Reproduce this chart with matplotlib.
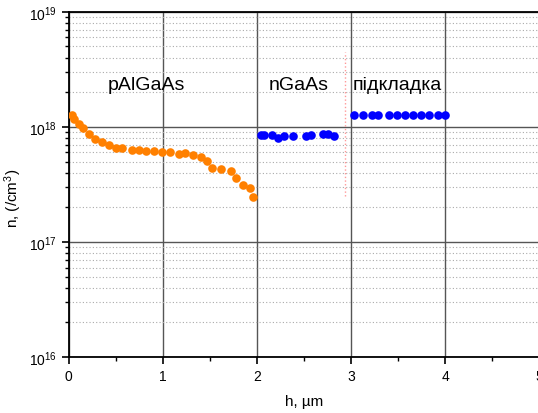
import numpy as np
import matplotlib.pyplot as plt
from matplotlib.ticker import LogLocator, MultipleLocator

plt.rcParams['font.family'] = ['Liberation Sans', 'DejaVu Sans']
plt.rcParams['mathtext.fontset'] = 'custom'
plt.rcParams['mathtext.rm'] = 'Liberation Sans'
plt.rcParams['mathtext.it'] = 'Liberation Sans:italic'

# p-AlGaAs layer
h_p = [0.03, 0.05, 0.11, 0.15, 0.21, 0.28, 0.35, 0.43, 0.50, 0.57, 0.67, 0.75,
       0.82, 0.91, 0.99, 1.08, 1.17, 1.24, 1.32, 1.41, 1.47, 1.52, 1.62, 1.72,
       1.78, 1.85, 1.93, 1.96]
n_p = [1.27e18, 1.17e18, 1.05e18, 9.8e17, 8.7e17, 7.9e17, 7.4e17, 7.0e17,
       6.6e17, 6.55e17, 6.35e17, 6.35e17, 6.2e17, 6.15e17, 6.0e17, 6.0e17,
       5.8e17, 5.9e17, 5.75e17, 5.45e17, 5.05e17, 4.4e17, 4.3e17, 4.15e17,
       3.6e17, 3.1e17, 2.95e17, 2.45e17]

# n-GaAs layer
h_n = [2.04, 2.08, 2.16, 2.22, 2.29, 2.38, 2.52, 2.58, 2.70, 2.76, 2.82]
n_n = [8.55e17, 8.5e17, 8.55e17, 8.0e17, 8.3e17, 8.4e17, 8.4e17, 8.55e17,
       8.7e17, 8.7e17, 8.4e17]

# substrate
h_s = [3.03, 3.13, 3.22, 3.29, 3.40, 3.49, 3.57, 3.66, 3.74, 3.83, 3.92, 4.00]
n_s = [1.28e18] * 12

layer_names = ['pAlGaAs', 'nGaAs', 'підкладка']
layer_label_x = [0.415, 2.12, 3.02]
layer_label_y = 2.35e18

boundary_x = 2.94
boundary_y = [2.5e17, 4.5e18]

fig = plt.figure(figsize=(5.38, 4.14), dpi=100)
ax = fig.add_axes([0.128, 0.135, 0.874, 0.834])

ax.set_yscale('log')
ax.set_xlim(0, 5)
ax.set_ylim(1e16, 1e19)

ax.plot(h_p, n_p, 'o', color='#FF8000', ms=6.2, mec='none', zorder=3)
ax.plot(h_n, n_n, 'o', color='#0000FF', ms=6.2, mec='none', zorder=3)
ax.plot(h_s, n_s, 'o', color='#0000FF', ms=6.2, mec='none', zorder=3)

ax.plot([boundary_x, boundary_x], boundary_y, ':', color='#FF9999', lw=1.0, zorder=2)

for name, x in zip(layer_names, layer_label_x):
    ax.text(x, layer_label_y, name, fontsize=14, va='center', ha='left')

ax.xaxis.set_major_locator(MultipleLocator(1))
ax.xaxis.set_minor_locator(MultipleLocator(0.5))
ax.yaxis.set_major_locator(LogLocator(base=10, numticks=10))
ax.yaxis.set_minor_locator(LogLocator(base=10, subs=np.arange(2, 10), numticks=20))

ax.grid(True, which='major', axis='both', color='#555555', lw=1.0, ls='-')
ax.grid(True, which='minor', axis='y', color='#AAAAAA', lw=0.8, ls=(0, (1, 2)))

ax.tick_params(which='major', direction='out', length=5, width=1.2, labelsize=10)
ax.tick_params(which='minor', direction='out', length=3, width=1.0)
for s in ax.spines.values():
    s.set_linewidth(1.3)

ax.set_xlabel('h, µm', fontsize=11, labelpad=8)
ax.set_ylabel('n, (/cm$^3$)', fontsize=11)
ax.yaxis.set_label_coords(-0.096, 0.464)

fig.savefig('out.png', dpi=100)
